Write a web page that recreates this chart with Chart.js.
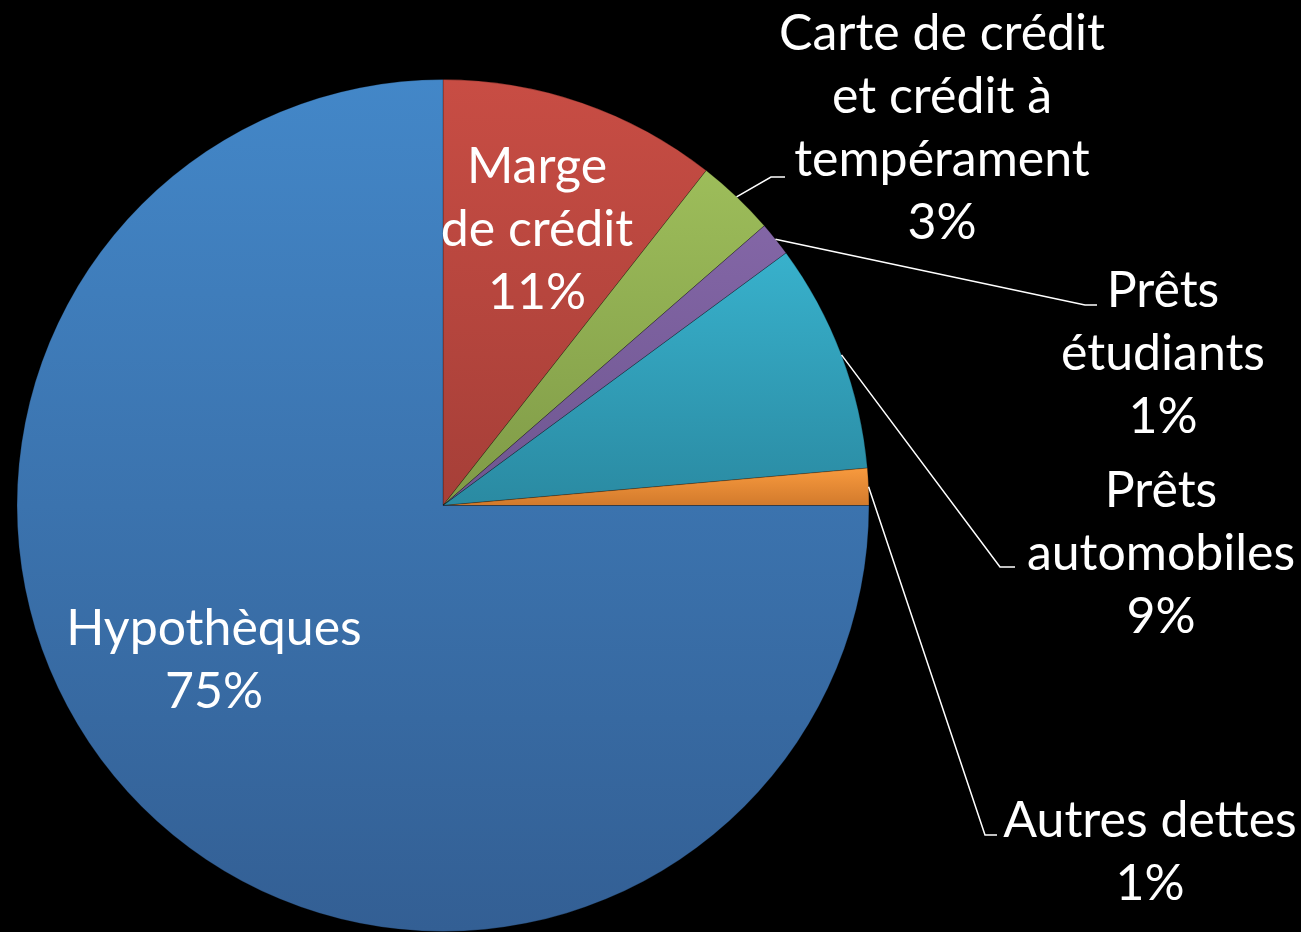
<!DOCTYPE html>
<html>
<head>
<meta charset="utf-8">
<script src="https://cdn.jsdelivr.net/npm/chart.js@4.4.1/dist/chart.umd.min.js"></script>
<style>
  html, body { margin: 0; padding: 0; background: #000; overflow: hidden; }
  #wrap { width: 1301px; height: 932px; }
</style>
</head>
<body>
<div id="wrap"><canvas id="debts"></canvas></div>
<script>
// slices clockwise from 12 o'clock
var categories = ["Marge de crédit", "Carte de crédit et crédit à tempérament", "Prêts étudiants",
                  "Prêts automobiles", "Autres dettes", "Hypothèques"];
var shares = [10.6, 3.0, 1.3, 8.7, 1.4, 75.0];

var topColors    = ["#C84D44", "#9DBD5A", "#8366A6", "#38B1CC", "#F89A3E", "#4387C8"];
var bottomColors = ["#A63F38", "#7F9A47", "#6E5690", "#2A8AA2", "#D27A2C", "#335F94"];

// where each label goes (lines, centre x, first baseline, leader elbow / end)
var labelLayout = [
  { lines: ["Marge", "de crédit"], x: 537, y: 183 },
  { lines: ["Carte de crédit", "et crédit à", "tempérament"], x: 942, y: 50, elbow: [771, 177], end: [785, 177] },
  { lines: ["Prêts", "étudiants"], x: 1163, y: 307, elbow: [1085, 305], end: [1097, 305] },
  { lines: ["Prêts", "automobiles"], x: 1161, y: 507, elbow: [1000, 567], end: [1015, 567] },
  { lines: ["Autres dettes"], x: 1150, y: 837, elbow: [985, 835], end: [997, 835] },
  { lines: ["Hypothèques"], x: 214, y: 645 }
];
var lineHeight = 63;
var labelFont = "50px Lato";

var sliceGradient = {
  id: "sliceGradient",
  beforeDatasetsDraw(chart) {
    var ctx = chart.ctx;
    chart.getDatasetMeta(0).data.forEach(function (arc, i) {
      var p = arc.getProps(["x", "y", "startAngle", "endAngle", "outerRadius"], true);
      var r = p.outerRadius;
      var ys = [p.y, p.y + r * Math.sin(p.startAngle), p.y + r * Math.sin(p.endAngle)];
      [-Math.PI / 2, Math.PI / 2, 3 * Math.PI / 2].forEach(function (a) {
        if (a > p.startAngle && a < p.endAngle) ys.push(p.y + r * Math.sin(a));
      });
      var g = ctx.createLinearGradient(0, Math.min.apply(null, ys), 0, Math.max.apply(null, ys));
      g.addColorStop(0, topColors[i]);
      g.addColorStop(1, bottomColors[i]);
      arc.options.backgroundColor = g;
    });
  }
};

var sliceLabels = {
  id: "sliceLabels",
  afterDatasetsDraw(chart) {
    var ctx = chart.ctx;
    var total = shares.reduce(function (a, b) { return a + b; }, 0);
    ctx.save();
    ctx.fillStyle = "#fff";
    ctx.strokeStyle = "#fff";
    ctx.lineWidth = 1.5;
    ctx.font = labelFont;
    ctx.textAlign = "center";
    ctx.textBaseline = "alphabetic";
    chart.getDatasetMeta(0).data.forEach(function (arc, i) {
      var lay = labelLayout[i];
      var p = arc.getProps(["x", "y", "startAngle", "endAngle", "outerRadius"], true);
      if (lay.elbow) {
        var mid = (p.startAngle + p.endAngle) / 2;
        ctx.beginPath();
        ctx.moveTo(p.x + p.outerRadius * Math.cos(mid), p.y + p.outerRadius * Math.sin(mid));
        ctx.lineTo(lay.elbow[0], lay.elbow[1]);
        ctx.lineTo(lay.end[0], lay.end[1]);
        ctx.stroke();
      }
      var lines = lay.lines.concat([Math.round(shares[i] / total * 100) + "%"]);
      lines.forEach(function (t, k) {
        ctx.fillText(t, lay.x, lay.y + k * lineHeight);
      });
    });
    ctx.restore();
  }
};

new Chart(document.getElementById("debts"), {
  type: "pie",
  data: {
    labels: categories,
    datasets: [{
      data: shares,
      backgroundColor: topColors,
      borderColor: "rgba(0,0,0,0.25)",
      borderWidth: 1
    }]
  },
  options: {
    responsive: true,
    maintainAspectRatio: false,
    animation: false,
    events: [],
    layout: { padding: { left: 15, right: 430, top: 79, bottom: -3 } },
    plugins: {
      legend: { display: false },
      tooltip: { enabled: false }
    }
  },
  plugins: [sliceGradient, sliceLabels]
});
</script>
</body>
</html>
